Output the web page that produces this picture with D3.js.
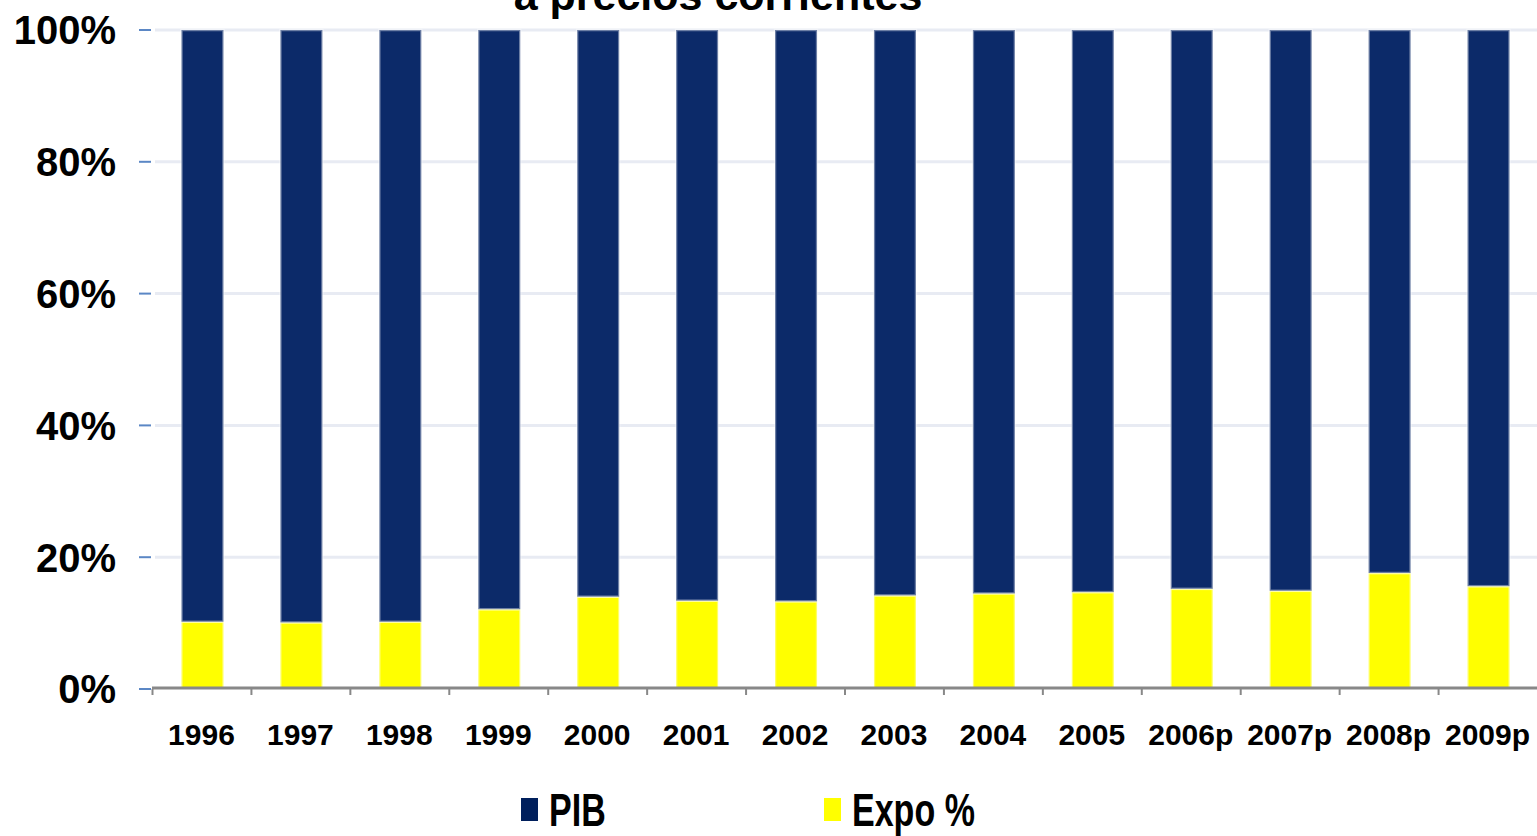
<!DOCTYPE html>
<html><head><meta charset="utf-8">
<script src="https://cdn.jsdelivr.net/npm/d3@7"></script>
<style>html,body{margin:0;padding:0;background:#fff;overflow:hidden}svg{display:block;font-family:"Liberation Sans",Arial,sans-serif}</style>
</head><body>
<svg id="chart" width="1537" height="836"></svg>
<script>
const years = ["1996","1997","1998","1999","2000","2001","2002","2003","2004","2005","2006p","2007p","2008p","2009p"];
const expo = [10.2,10.1,10.2,12.1,14.0,13.4,13.3,14.2,14.5,14.7,15.2,14.9,17.6,15.6];
const pib  = [89.8,89.9,89.8,87.9,86.0,86.6,86.7,85.8,85.5,85.3,84.8,85.1,82.4,84.4];
const yTicks = [0,20,40,60,80,100];
const seriesNames = ["PIB","Expo %"];
const colors = {"PIB":"#0c2a69","Expo %":"#ffff00"};

const svg = d3.select("#chart");
const x = d3.scaleBand().domain(years).range([152,1537]).paddingInner(0.575).paddingOuter(0.2875);
const y = d3.scaleLinear().domain([0,100]).range([689,30]);

// title (first line off-canvas)
svg.append("text").attr("x",718).attr("y",10).attr("text-anchor","middle")
  .attr("font-size",43).attr("font-weight","bold").text("a precios corrientes");

// gridlines
svg.append("g").selectAll("line").data(yTicks.filter(d=>d>0)).join("line")
  .attr("x1",155).attr("x2",1537).attr("y1",d=>y(d)).attr("y2",d=>y(d))
  .attr("stroke","#e8ebf3").attr("stroke-width",3);

// y ticks and labels
svg.append("g").selectAll("line").data(yTicks).join("line")
  .attr("x1",139).attr("x2",151).attr("y1",d=>y(d)).attr("y2",d=>y(d))
  .attr("stroke","#5b87c5").attr("stroke-width",2);
svg.append("g").selectAll("text").data(yTicks).join("text")
  .attr("x",116).attr("y",d=>y(d)).attr("dy","0.36em").attr("text-anchor","end")
  .attr("font-size",40).attr("font-weight","bold").attr("fill","#000").text(d=>d+"%");

// stacked bars
const rows = years.map((yr,i)=>({year:yr,"Expo %":expo[i],"PIB":pib[i]}));
const stack = d3.stack().keys(["Expo %","PIB"]).offset(d3.stackOffsetExpand)(rows);
svg.append("g").selectAll("g").data(stack).join("g").attr("fill",d=>colors[d.key])
  .selectAll("rect").data(d=>d).join("rect")
  .attr("x",d=>x(d.data.year)+1).attr("width",x.bandwidth())
  .attr("y",d=>y(d[1]*100)).attr("height",d=>y(d[0]*100)-y(d[1]*100))
  .attr("stroke","rgba(255,255,255,0.4)").attr("stroke-width",2.5);

// x axis line and ticks
svg.append("line").attr("x1",152).attr("x2",1537).attr("y1",688).attr("y2",688)
  .attr("stroke","#888").attr("stroke-width",3);
const bounds = years.map(d=>x(d)-x.step()*x.paddingInner()/2);
svg.append("g").selectAll("line").data(bounds).join("line")
  .attr("x1",d=>d+0.5).attr("x2",d=>d+0.5).attr("y1",689).attr("y2",695)
  .attr("stroke","#888").attr("stroke-width",2);
svg.append("g").selectAll("text").data(years).join("text")
  .attr("x",d=>x(d)+x.bandwidth()/2).attr("y",745).attr("text-anchor","middle")
  .attr("font-size",30).attr("font-weight","bold").attr("fill","#000").text(d=>d);

// legend
const legX = [521,824];
const lg = svg.append("g").selectAll("g").data(seriesNames).join("g")
  .attr("transform",(d,i)=>`translate(${legX[i]},0)`);
lg.append("rect").attr("x",0).attr("y",798).attr("width",17).attr("height",23)
  .attr("fill",d=>d==="PIB"?"#001f5c":"#ffff00");
lg.append("text").attr("transform","translate(28,826) scale(0.74,1)")
  .attr("font-size",46).attr("font-weight","bold").attr("fill","#000").text(d=>d);
</script>
</body></html>
